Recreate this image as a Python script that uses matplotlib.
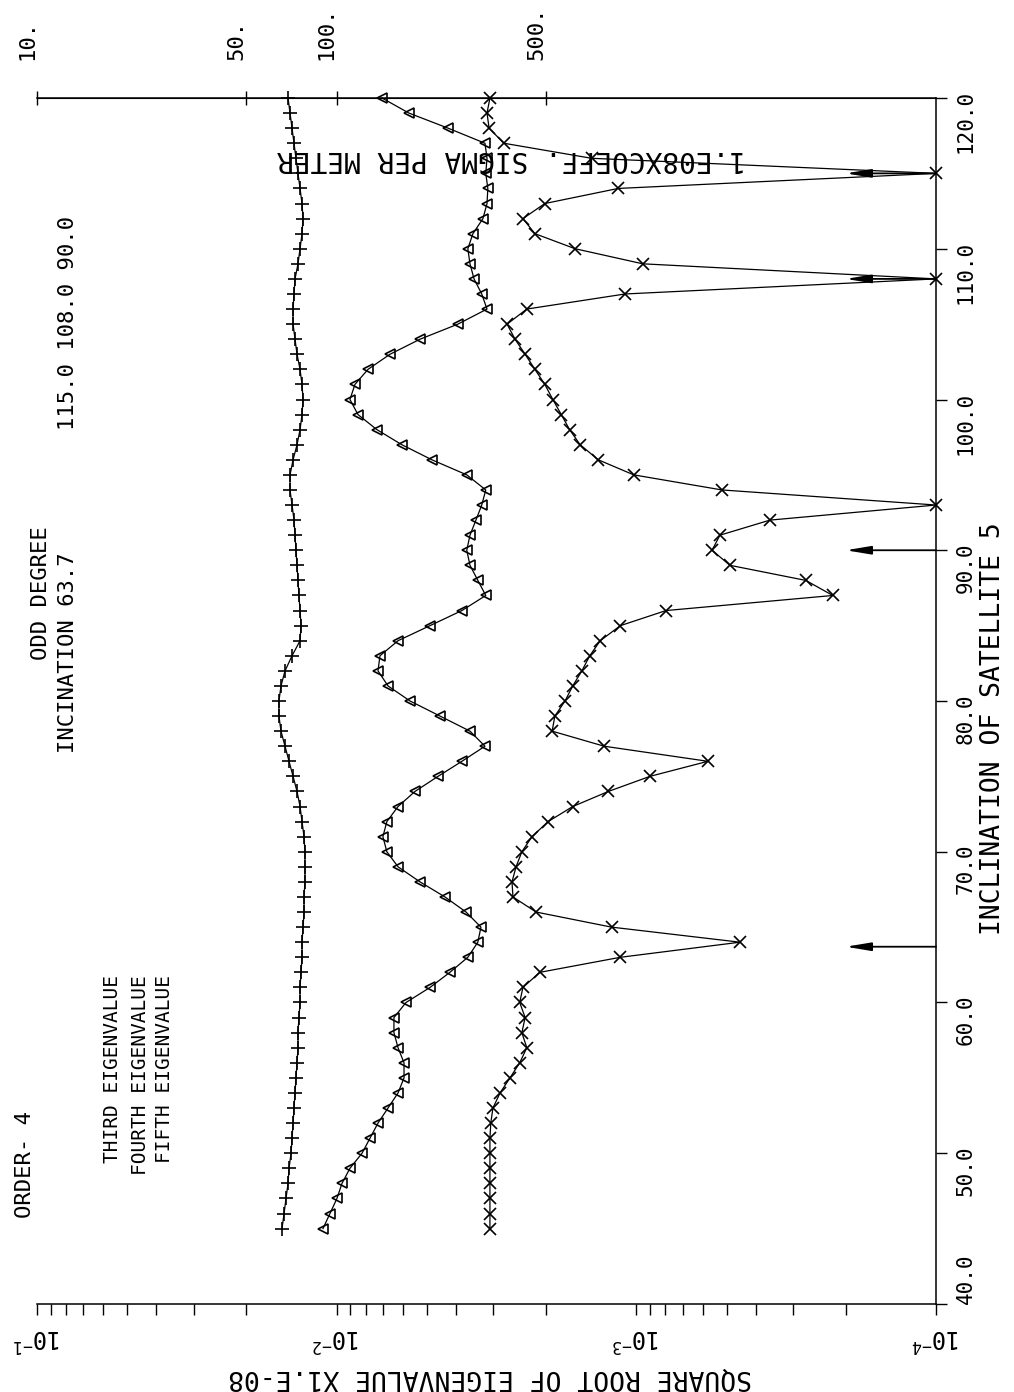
import numpy as np
import matplotlib
matplotlib.use('Agg')
import matplotlib.pyplot as plt
from matplotlib.ticker import LogLocator, NullFormatter, NullLocator

plt.rcParams['font.family'] = ['DejaVu Sans Mono', 'DejaVu Sans']
plt.rcParams['mathtext.default'] = 'regular'

# inclination of satellite (deg), one point per degree
incl = np.arange(45, 121)

# square root of eigenvalue x1.E-08
third = [0.01522, 0.01498, 0.01476, 0.01453, 0.01442, 0.01420, 0.01409, 0.01398, 0.01388, 0.01377,
         0.01367, 0.01356, 0.01346, 0.01346, 0.01336, 0.01325, 0.01325, 0.01315, 0.01305, 0.01305,
         0.01295, 0.01285, 0.01285, 0.01276, 0.01276, 0.01276, 0.01285, 0.01305, 0.01325, 0.01356,
         0.01398, 0.01442, 0.01487, 0.01534, 0.01558, 0.01558, 0.01534, 0.01487, 0.01409, 0.01325,
         0.01315, 0.01325, 0.01336, 0.01346, 0.01356, 0.01367, 0.01377, 0.01388, 0.01409, 0.01431,
         0.01431, 0.01398, 0.01356, 0.01325, 0.01305, 0.01295, 0.01305, 0.01325, 0.01356, 0.01377,
         0.01398, 0.01398, 0.01388, 0.01377, 0.01346, 0.01325, 0.01305, 0.01295, 0.01305, 0.01325,
         0.01346, 0.01367, 0.01388, 0.01409, 0.01431, 0.01453]
fourth = [0.01111, 0.01053, 0.00998, 0.00960, 0.00903, 0.00823, 0.00774, 0.00728, 0.00674, 0.00624,
          0.00596, 0.00596, 0.00624, 0.00644, 0.00644, 0.00587, 0.00488, 0.00419, 0.00365, 0.00338,
          0.00330, 0.00370, 0.00435, 0.00527, 0.00624, 0.00680, 0.00701, 0.00680, 0.00624, 0.00548,
          0.00459, 0.00382, 0.00320, 0.00359, 0.00452, 0.00569, 0.00674, 0.00728, 0.00717, 0.00624,
          0.00488, 0.00382, 0.00318, 0.00338, 0.00359, 0.00368, 0.00359, 0.00343, 0.00328, 0.00318,
          0.00368, 0.00481, 0.00606, 0.00734, 0.00849, 0.00903, 0.00869, 0.00786, 0.00664, 0.00527,
          0.00394, 0.00315, 0.00328, 0.00348, 0.00359, 0.00365, 0.00351, 0.00325, 0.00315, 0.00313,
          0.00318, 0.00315, 0.00320, 0.00425, 0.00574, 0.00706]
fifth = [0.00308, 0.00308, 0.00308, 0.00308, 0.00308, 0.00308, 0.00308, 0.00306, 0.00301, 0.00285,
         0.00264, 0.00245, 0.00232, 0.00241, 0.00235, 0.00245, 0.00239, 0.00210, 0.00113, 0.000451,
         0.00121, 0.00216, 0.00258, 0.00260, 0.00252, 0.00241, 0.00223, 0.00197, 0.00163, 0.00124,
         0.000901, 0.000577, 0.00128, 0.00191, 0.00187, 0.00173, 0.00163, 0.00152, 0.00143, 0.00132,
         0.00113, 0.000796, 0.000221, 0.000272, 0.000487, 0.000559, 0.000526, 0.000358, 0.000100, 0.000518,
         0.00102, 0.00134, 0.00154, 0.00167, 0.00178, 0.00190, 0.00202, 0.00218, 0.00235, 0.00254,
         0.00270, 0.00232, 0.00109, 0.000100, 0.000951, 0.00160, 0.00218, 0.00239, 0.00202, 0.00115,
         0.000100, 0.00141, 0.00277, 0.00310, 0.00315, 0.00308]

# resonance inclinations marked with arrows
arrow_incl = [63.7, 90.0, 108.0, 115.0]
arrow_tip = 2.0e-4

eig_ticks = [1e-1, 1e-2, 1e-3, 1e-4]
eig_labels = [r'$10^{-1}$', r'$10^{-2}$', r'$10^{-3}$', r'$10^{-4}$']
inc_ticks = [40, 50, 60, 70, 80, 90, 100, 110, 120]
inc_labels = ['40.0', '50.0', '60.0', '70.0', '80.0', '90.0', '100.0', '110.0', '120.0']
sig_ticks = [10, 50, 100, 500]
sig_labels = ['10.', '50.', '100.', '500.']

W, H = 1014, 1392
fig = plt.figure(figsize=(W / 100, H / 100), dpi=100)
ax = fig.add_axes([37 / W, 1 - 1304 / H, (936 - 37) / W, (1304 - 98) / H])


def fp(x, y):
    # pixel position -> figure fraction
    return x / W, 1 - y / H


ax.set_xscale('log')
ax.set_xlim(1e-1, 1e-4)
ax.set_ylim(40, 120)

ax.plot(third, incl, color='k', lw=0.9, marker='+', ms=10, mew=1.2, clip_on=False)
ax.plot(fourth, incl, color='k', lw=0.9, marker='<', ms=7, mfc='none', mew=1.2, clip_on=False)
ax.plot(fifth, incl, color='k', lw=0.9, marker='x', ms=8, mew=1.2, clip_on=False)

for a in arrow_incl:
    ax.annotate('', xy=(arrow_tip, a), xytext=(1e-4, a),
                arrowprops=dict(arrowstyle='-|>,head_length=1.5,head_width=0.25', color='k',
                                lw=1.3, shrinkA=0, shrinkB=0, mutation_scale=10),
                annotation_clip=False)

# frame: no left line
ax.spines['left'].set_visible(False)
for s in ['top', 'bottom', 'right']:
    ax.spines[s].set_linewidth(1.1)

ax.set_xticks(eig_ticks, labels=eig_labels)
ax.xaxis.set_minor_locator(LogLocator(base=10, subs=np.arange(2, 10)))
ax.xaxis.set_minor_formatter(NullFormatter())
ax.tick_params(axis='x', which='both', direction='out', length=8, width=1, pad=6,
               labelsize=17, labelrotation=180, top=False)

ax.yaxis.tick_right()
ax.set_yticks(inc_ticks, labels=inc_labels)
ax.tick_params(axis='y', which='both', direction='out', length=8, width=1, pad=6,
               labelsize=15, labelrotation=90, left=False, right=True)
# 40.0 sits above its tick, clear of the corner
ax.yaxis.get_major_ticks()[0].label2.set_va('bottom')

sec = ax.secondary_xaxis('top', functions=(lambda e: 1.0 / e, lambda s: 1.0 / s))
sec.set_xticks(sig_ticks, labels=sig_labels)
sec.xaxis.set_minor_locator(NullLocator())
sec.tick_params(axis='x', direction='inout', length=10, width=1, pad=22,
                labelsize=16, labelrotation=90)
plt.setp(sec.get_xticklabels(), ha='right')

# texts
fig.text(*fp(25, 1164), 'ORDER- 4', rotation=90, ha='center', va='center', fontsize=16)
fig.text(*fp(41, 593), 'ODD DEGREE', rotation=90, ha='center', va='center', fontsize=16)
fig.text(*fp(68, 653), 'INCINATION 63.7', rotation=90, ha='center', va='center', fontsize=16)
fig.text(*fp(68, 323), '115.0 108.0 90.0', rotation=90, ha='center', va='center', fontsize=16)
fig.text(*fp(113, 975), 'THIRD EIGENVALUE', rotation=90, ha='center', va='top', fontsize=14)
fig.text(*fp(140, 975), 'FOURTH EIGENVALUE', rotation=90, ha='center', va='top', fontsize=14)
fig.text(*fp(165, 975), 'FIFTH EIGENVALUE', rotation=90, ha='center', va='top', fontsize=14)
fig.text(*fp(512, 159), '1.E08XCOEFF. SIGMA PER METER', rotation=180, ha='center', va='center',
         fontsize=20)
fig.text(*fp(993, 729), 'INCLINATION OF SATELLITE 5', rotation=90, ha='center', va='center',
         fontsize=19)
fig.text(*fp(490, 1377), 'SQUARE ROOT OF EIGENVALUE X1.E-08', rotation=180, ha='center',
         va='center', fontsize=19)

fig.savefig('out.png', dpi=100)
